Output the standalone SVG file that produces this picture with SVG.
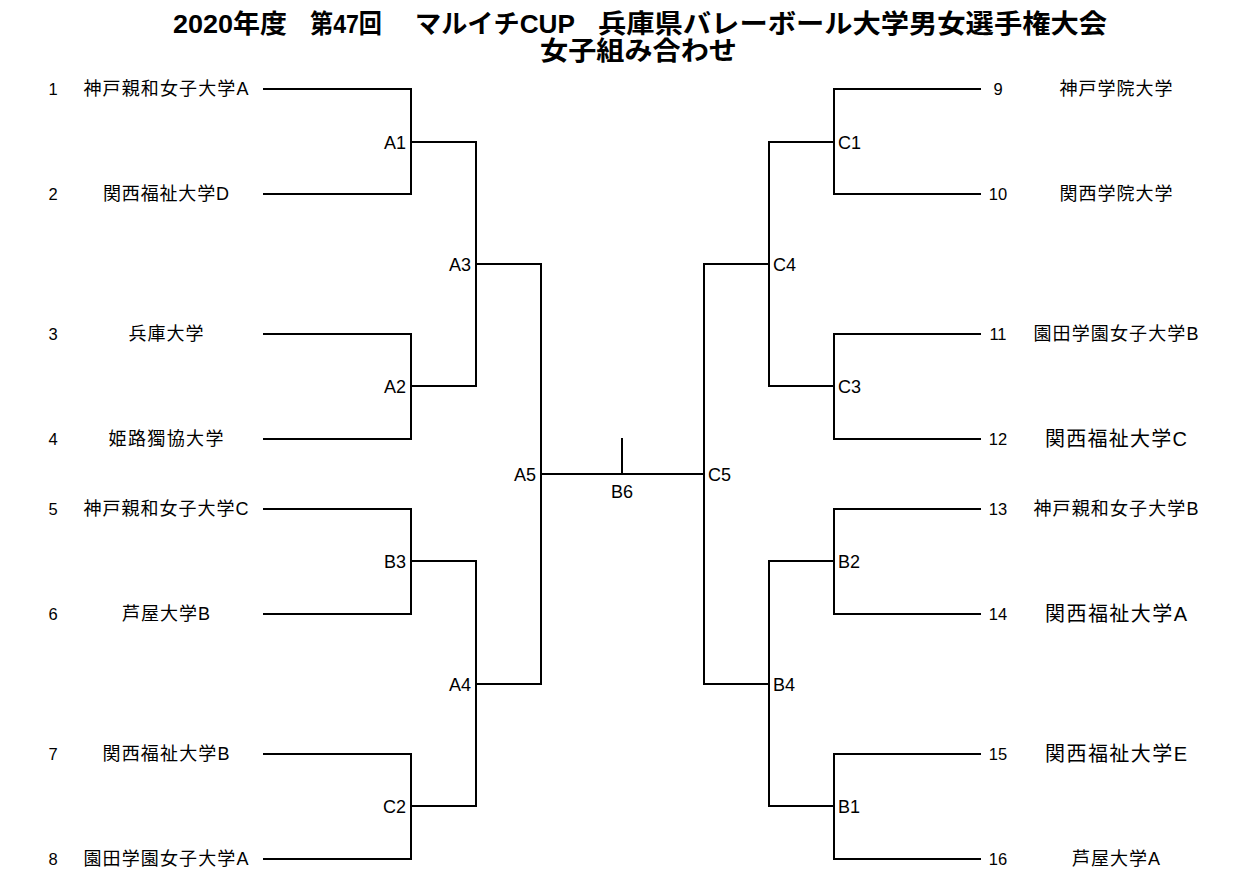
<svg xmlns="http://www.w3.org/2000/svg" width="1235" height="885" viewBox="0 0 1235 885">
<style>
  text { font-family: "Liberation Sans", "Noto Sans CJK JP", sans-serif; fill: #000; }
  .title { font-size: 26px; font-weight: bold; }
  .num { font-size: 16.5px; text-anchor: middle; }
  .name { font-size: 18px; text-anchor: middle; }
  .big { font-size: 20px; }
  .lblL { font-size: 18px; text-anchor: end; }
  .lblR { font-size: 18px; text-anchor: start; }
  .lblC { font-size: 18px; text-anchor: middle; }
  .ln { fill: none; stroke: #000; stroke-width: 2; stroke-linecap: square; }
</style>
<rect width="1235" height="885" fill="#fff"/>
<g id="title">
  <text class="title" y="33"><tspan x="173" textLength="114" lengthAdjust="spacingAndGlyphs">2020年度</tspan><tspan x="310" textLength="72" lengthAdjust="spacingAndGlyphs">第47回</tspan><tspan x="415" textLength="160" lengthAdjust="spacingAndGlyphs">マルイチCUP</tspan><tspan x="598" textLength="509" lengthAdjust="spacingAndGlyphs">兵庫県バレーボール大学男女選手権大会</tspan></text>
  <text class="title" x="540" y="60" textLength="197" lengthAdjust="spacingAndGlyphs">女子組み合わせ</text>
</g>
<g id="connectors">
  <path class="ln" d="M264 89 H411 V194 H264 M411 142 H476"/>
  <path class="ln" d="M264 334 H411 V439 H264 M411 386 H476"/>
  <path class="ln" d="M264 509 H411 V614 H264 M411 561 H476"/>
  <path class="ln" d="M264 754 H411 V859 H264 M411 806 H476"/>
  <path class="ln" d="M476 142 V386 M476 264 H541"/>
  <path class="ln" d="M476 561 V806 M476 684 H541"/>
  <path class="ln" d="M541 264 V684 M541 474 H704"/>
  <path class="ln" d="M622 439 V474"/>
  <path class="ln" d="M704 264 V684"/>
  <path class="ln" d="M704 264 H769 M769 142 V386"/>
  <path class="ln" d="M704 684 H769 M769 561 V806"/>
  <path class="ln" d="M980 89 H834 V194 H980 M769 142 H834"/>
  <path class="ln" d="M980 334 H834 V439 H980 M769 386 H834"/>
  <path class="ln" d="M980 509 H834 V614 H980 M769 561 H834"/>
  <path class="ln" d="M980 754 H834 V859 H980 M769 806 H834"/>
</g>
<g id="team1"><text class="num" x="53" y="95">1</text><text class="name" x="166" y="95" textLength="165" lengthAdjust="spacing">神戸親和女子大学A</text></g>
<g id="team2"><text class="num" x="53" y="200">2</text><text class="name" x="166" y="200" textLength="126" lengthAdjust="spacing">関西福祉大学D</text></g>
<g id="team3"><text class="num" x="53" y="340">3</text><text class="name" x="166" y="340" textLength="75" lengthAdjust="spacing">兵庫大学</text></g>
<g id="team4"><text class="num" x="53" y="445">4</text><text class="name" x="166" y="445" textLength="115" lengthAdjust="spacing">姫路獨協大学</text></g>
<g id="team5"><text class="num" x="53" y="515">5</text><text class="name" x="166" y="515" textLength="165" lengthAdjust="spacing">神戸親和女子大学C</text></g>
<g id="team6"><text class="num" x="53" y="620">6</text><text class="name" x="166" y="620" textLength="88" lengthAdjust="spacing">芦屋大学B</text></g>
<g id="team7"><text class="num" x="53" y="760">7</text><text class="name" x="166" y="760" textLength="127" lengthAdjust="spacing">関西福祉大学B</text></g>
<g id="team8"><text class="num" x="53" y="865">8</text><text class="name" x="166" y="865" textLength="165" lengthAdjust="spacing">園田学園女子大学A</text></g>
<g id="team9"><text class="num" x="998" y="95">9</text><text class="name" x="1116" y="95" textLength="113" lengthAdjust="spacing">神戸学院大学</text></g>
<g id="team10"><text class="num" x="998" y="200">10</text><text class="name" x="1116" y="200" textLength="113" lengthAdjust="spacing">関西学院大学</text></g>
<g id="team11"><text class="num" x="998" y="340">11</text><text class="name" x="1116" y="340" textLength="165" lengthAdjust="spacing">園田学園女子大学B</text></g>
<g id="team12"><text class="num" x="998" y="445">12</text><text class="name big" x="1116" y="446" textLength="142" lengthAdjust="spacing">関西福祉大学C</text></g>
<g id="team13"><text class="num" x="998" y="515">13</text><text class="name" x="1116" y="515" textLength="165" lengthAdjust="spacing">神戸親和女子大学B</text></g>
<g id="team14"><text class="num" x="998" y="620">14</text><text class="name big" x="1116" y="621" textLength="142" lengthAdjust="spacing">関西福祉大学A</text></g>
<g id="team15"><text class="num" x="998" y="760">15</text><text class="name big" x="1116" y="761" textLength="142" lengthAdjust="spacing">関西福祉大学E</text></g>
<g id="team16"><text class="num" x="998" y="865">16</text><text class="name" x="1116" y="865" textLength="88" lengthAdjust="spacing">芦屋大学A</text></g>
<g id="matchA1"><text class="lblL" x="406" y="149">A1</text></g>
<g id="matchA2"><text class="lblL" x="406" y="393">A2</text></g>
<g id="matchB3"><text class="lblL" x="406" y="568">B3</text></g>
<g id="matchC2"><text class="lblL" x="406" y="813">C2</text></g>
<g id="matchA3"><text class="lblL" x="471" y="271">A3</text></g>
<g id="matchA4"><text class="lblL" x="471" y="691">A4</text></g>
<g id="matchA5"><text class="lblL" x="536" y="481">A5</text></g>
<g id="matchB6"><text class="lblC" x="622" y="498">B6</text></g>
<g id="matchC5"><text class="lblR" x="708" y="481">C5</text></g>
<g id="matchC4"><text class="lblR" x="773" y="271">C4</text></g>
<g id="matchB4"><text class="lblR" x="773" y="691">B4</text></g>
<g id="matchC1"><text class="lblR" x="838" y="149">C1</text></g>
<g id="matchC3"><text class="lblR" x="838" y="393">C3</text></g>
<g id="matchB2"><text class="lblR" x="838" y="568">B2</text></g>
<g id="matchB1"><text class="lblR" x="838" y="813">B1</text></g>
</svg>
